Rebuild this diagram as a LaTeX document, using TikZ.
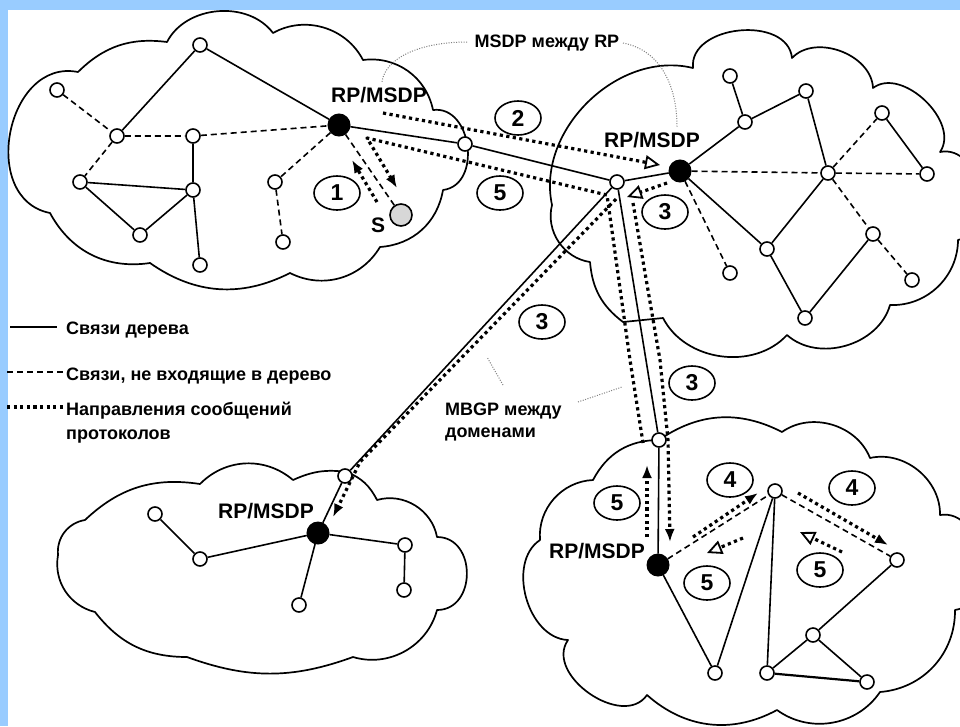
\documentclass[tikz,border=0pt]{standalone}
\usepackage{fontspec}
\setmainfont{Liberation Sans}
\usetikzlibrary{arrows.meta,shapes.geometric}
\definecolor{bgblue}{RGB}{153,204,255}
\definecolor{sgray}{RGB}{215,215,215}
\begin{document}
\begin{tikzpicture}[x=1pt,y=-1pt,
  nd/.style={circle,draw,fill=white,line width=1.6pt,minimum size=14pt,inner sep=0pt},
  rp/.style={circle,draw,fill=black,line width=1pt,minimum size=22pt,inner sep=0pt},
  src/.style={circle,draw,fill=sgray,line width=1.6pt,minimum size=22pt,inner sep=0pt},
  cld/.style={line width=1.7pt,line join=round},
  tr/.style={line width=1.6pt},
  nt/.style={line width=1.6pt,dash pattern=on 6pt off 4pt},
  msg/.style={line width=3.2pt,dash pattern=on 3.2pt off 3.4pt,line join=round},
  ftip/.style={-{Latex[length=13pt,width=10pt]}},
  otip/.style={-{Triangle[open,length=15pt,width=14pt,line width=1.8pt]}},
  num/.style={ellipse,draw,line width=1.6pt,minimum width=46pt,minimum height=34pt,inner sep=0pt,font=\bfseries\fontsize{23}{23}\selectfont},
  rpl/.style={inner sep=0pt,font=\bfseries\fontsize{21}{21}\selectfont},
  txt/.style={inner sep=0pt,font=\bfseries\fontsize{18}{18}\selectfont},
  ldr/.style={gray,line width=1pt,dash pattern=on 1pt off 1.5pt}
]
\useasboundingbox (0,0) rectangle (960,726);
\clip (0,0) rectangle (960,726);
\fill[white] (0,0) rectangle (960,726);
\fill[bgblue] (0,0) rectangle (960,10);
\fill[bgblue] (0,0) rectangle (8,726);

% clouds
\draw[cld] (50,213) to[bend left=90,looseness=1.3] (78,72) to[bend left=26] (167,42)
  to[bend left=58] (273,33) to[bend left=46] (363,60) to[bend left=43] (433,110)
  to[bend left=90,looseness=1.26] (443,190) to[bend left=38] (380,247)
  to[bend left=43] (290,273) to[bend left=31] (150,263) to[bend left=35] (50,213) -- cycle;
\draw[cld] (552,205) to[bend left=58] (693,68) to[bend left=90,looseness=1.12] (792,58)
  to[bend left=67] (873,88) to[bend left=81] (940,152) to[bend left=90,looseness=1.19] (958,240)
  to[bend left=46] (890,305) to[bend left=58] (787,335) to[bend left=55] (663,318)
  -- (623,322) to[bend left=24] (590,262) to[bend left=48] (552,205) -- cycle;
\draw[cld] (58,555) to[bend left=43] (85,520) to[bend left=26] (200,484)
  to[bend left=43] (293,480) to[bend left=16] (347,472) to[bend left=20] (377,500)
  to[bend left=48] (437,537) to[bend left=90,looseness=1.4] (437,610)
  to[bend left=46] (353,657) to[bend left=20] (187,657) to[bend left=26] (95,612)
  to[bend left=43] (58,555) -- cycle;
\draw[cld] (540,540) to[bend left=46] (593,480) to[bend left=31] (659,440)
  to[bend left=31] (782,432) to[bend left=52] (870,458) to[bend left=52] (940,515)
  to[bend left=90,looseness=1.19] (955,610) to[bend left=43] (880,692)
  to[bend left=46] (777,710) to[bend left=35] (647,695)
  to[bend left=90,looseness=1.12] (568,640) to[bend left=72] (540,540) -- cycle;

% nodes cloud 1
\node[nd] (a1) at (200,45) {};
\node[nd] (b1) at (57,90) {};
\node[nd] (c1) at (117,136) {};
\node[nd] (d1) at (193,136) {};
\node[nd] (e1) at (80,182) {};
\node[nd] (f1) at (193,190) {};
\node[nd] (g1) at (140,235) {};
\node[nd] (h1) at (200,265) {};
\node[nd] (i1) at (275,182) {};
\node[nd] (j1) at (283,242) {};
\node[nd] (k1) at (465,144) {};
\node[rp] (rp1) at (339,125) {};
\node[src] (s1) at (401,215) {};
% cloud 2
\node[rp] (rp2) at (680,171) {};
\node[nd] (a2) at (617,182) {};
\node[nd] (b2) at (730,76) {};
\node[nd] (c2) at (745,122) {};
\node[nd] (d2) at (806,91) {};
\node[nd] (e2) at (882,113) {};
\node[nd] (f2) at (828,173) {};
\node[nd] (g2) at (927,174) {};
\node[nd] (h2) at (873,234) {};
\node[nd] (i2) at (767,249) {};
\node[nd] (j2) at (730,273) {};
\node[nd] (k2) at (805,318) {};
\node[nd] (l2) at (912,280) {};
% cloud 3
\node[nd] (a3) at (345,476) {};
\node[rp] (rp3) at (318,533) {};
\node[nd] (b3) at (155,514) {};
\node[nd] (c3) at (200,559) {};
\node[nd] (d3) at (405,545) {};
\node[nd] (e3) at (404,590) {};
\node[nd] (f3) at (299,605) {};
% cloud 4
\node[nd] (a4) at (659,440) {};
\node[rp] (rp4) at (658,565) {};
\node[nd] (b4) at (775,491) {};
\node[nd] (c4) at (897,560) {};
\node[nd] (d4) at (715,673) {};
\node[nd] (e4) at (767,673) {};
\node[nd] (f4) at (813,635) {};
\node[nd] (g4) at (867,682) {};

% tree links
\draw[tr] (a1)--(rp1) (a1)--(c1) (d1)--(f1) (e1)--(f1) (e1)--(g1) (g1)--(f1) (f1)--(h1)
  (rp1)--(k1) (k1)--(a2) (a2)--(rp2);
\draw[tr] (rp2)--(c2) (c2)--(d2) (b2)--(c2) (d2)--(f2) (f2)--(i2) (rp2)--(i2) (i2)--(k2)
  (k2)--(h2) (e2)--(g2);
\draw[tr] (a2)--(a3) (a3)--(rp3) (b3)--(c3) (c3)--(rp3) (rp3)--(d3) (d3)--(e3) (rp3)--(f3);
\draw[tr] (a2)--(a4) (a4)--(rp4) (rp4)--(d4) (d4)--(b4) (b4)--(e4) (e4)--(f4) (f4)--(c4)
  (f4)--(g4);
\draw[line width=2.2pt] (e4)--(g4);
% non-tree links
\draw[nt] (b1)--(c1) (c1)--(d1) (d1)--(rp1) (c1)--(e1) (rp1)--(i1) (i1)--(j1) (rp1)--(s1);
\draw[nt] (rp2)--(f2) (f2)--(g2) (f2)--(e2) (f2)--(h2) (h2)--(l2) (rp2)--(j2);
\draw[nt] (rp4)--(b4) (b4)--(c4);

% message arrows
\coordinate (m1a) at (377,202); \coordinate (m1b) at (352,160);
\draw[msg,ftip] (m1a)--(m1b);
\coordinate (m2a) at (383,113); \coordinate (m2b) at (660,165);
\draw[msg,otip] (m2a)--(m2b);
\coordinate (m5a) at (643,443); \coordinate (m5b) at (630,360); \coordinate (m5c) at (607,195);
\coordinate (m5d) at (367,138); \coordinate (m5e) at (397,188);
\draw[msg,ftip] (m5a)--(m5b)--(m5c)--(m5d)--(m5e);
\coordinate (m3a) at (667,183); \coordinate (m3b) at (627,197);
\draw[msg,otip] (m3a)--(m3b);
\coordinate (m3c) at (616,199); \coordinate (m3d) at (360,462); \coordinate (m3e) at (333,517);
\draw[msg,ftip] (m3c)--(m3d)--(m3e);
\coordinate (m3f) at (633,203); \coordinate (m3g) at (660,360); \coordinate (m3h) at (668,440);
\coordinate (m3i) at (670,542);
\draw[msg,ftip] (m3f)--(m3g)--(m3h)--(m3i);
\coordinate (m5f) at (647,537); \coordinate (m5g) at (647,465);
\draw[msg,ftip] (m5f)--(m5g);
\coordinate (m4a) at (693,537); \coordinate (m4b) at (758,493);
\draw[msg,ftip] (m4a)--(m4b);
\coordinate (m5h) at (743,538); \coordinate (m5i) at (707,553);
\draw[msg,otip] (m5h)--(m5i);
\coordinate (m4c) at (798,493); \coordinate (m4d) at (888,545);
\draw[msg,ftip] (m4c)--(m4d);
\coordinate (m5j) at (842,552); \coordinate (m5k) at (800,532);
\draw[msg,otip] (m5j)--(m5k);

% number labels
\node[num] (n1) at (337,193) {1};
\node[num] (n2) at (518,118) {2};
\node[num] (n5a) at (500,193) {5};
\node[num] (n3a) at (665,212) {3};
\node[num] (n3b) at (542,322) {3};
\node[num] (n3c) at (692,383) {3};
\node[num] (n5b) at (617,503) {5};
\node[num] (n4a) at (730,480) {4};
\node[num] (n5c) at (707,583) {5};
\node[num] (n4b) at (852,488) {4};
\node[num] (n5d) at (820,570) {5};

% RP labels
\node[rpl,anchor=base] (r1) at (379,102) {RP/MSDP};
\node[rpl,anchor=base] (r2) at (652,147) {RP/MSDP};
\node[rpl,anchor=base] (r3) at (266,518) {RP/MSDP};
\node[rpl,anchor=base] (r4) at (597,558) {RP/MSDP};
\node[rpl,anchor=base] (sl) at (378,232) {S};

% MSDP label
\node[txt,anchor=base] (msdp) at (547,47) {MSDP между RP};
\coordinate (ml0) at (467,42); \coordinate (ml1) at (382,82);
\draw[ldr] (ml0) .. controls (420,42) and (385,58) .. (ml1);
\coordinate (mr0) at (623,43); \coordinate (mr1) at (677,127);
\draw[ldr] (mr0) .. controls (660,50) and (677,85) .. (mr1);

% MBGP label
\node[txt,anchor=base west] (mb1) at (445,415) {MBGP между};
\node[txt,anchor=base west] (mb2) at (445,437) {доменами};
\coordinate (bl0) at (503,385); \coordinate (bl1) at (487,357);
\draw[ldr] (bl0)--(bl1);
\coordinate (br0) at (578,402); \coordinate (br1) at (622,387);
\draw[ldr] (br0)--(br1);

% legend
\coordinate (lg1a) at (10,327); \coordinate (lg1b) at (57,327);
\draw[tr] (lg1a)--(lg1b);
\node[txt,anchor=base west] (lt1) at (66,334) {Связи дерева};
\coordinate (lg2a) at (7,372); \coordinate (lg2b) at (63,372);
\draw[nt] (lg2a)--(lg2b);
\node[txt,anchor=base west] (lt2) at (66,380) {Связи, не входящие в дерево};
\coordinate (lg3a) at (7,407); \coordinate (lg3b) at (63,407);
\draw[msg] (lg3a)--(lg3b);
\node[txt,anchor=base west] (lt3) at (66,415) {Направления сообщений};
\node[txt,anchor=base west] (lt4) at (66,439) {протоколов};
\end{tikzpicture}
\end{document}
